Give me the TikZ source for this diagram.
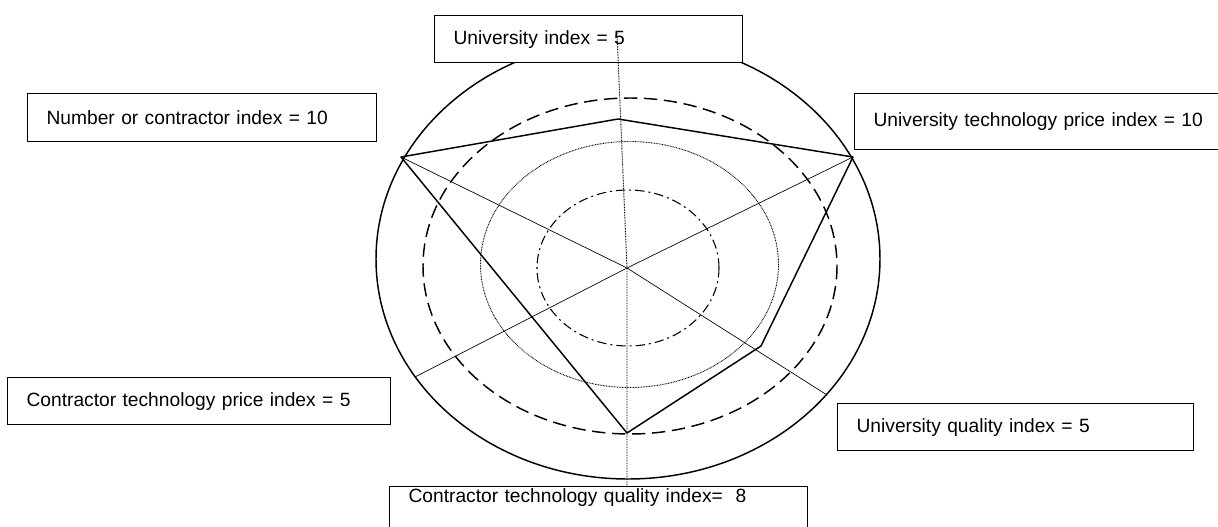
\documentclass[tikz,border=0pt]{standalone}
\usepackage{fontspec}
\setmainfont{Liberation Sans}
\tikzset{
  indexbox/.style={draw, fill=white, line width=0.9pt, anchor=north west, align=left,
    inner xsep=14.25pt, inner ysep=0pt, font=\fontsize{14.4}{17}\selectfont},
  spoke/.style={line width=0.5pt},
  rim/.style={line width=1.1pt},
  finedots/.style={line width=0.7pt, dash pattern=on 0.6pt off 0.6pt},
}

\begin{document}
\begin{tikzpicture}[x=0.75pt,y=0.75pt,yscale=-1,xscale=1]
\useasboundingbox (0,0) rectangle (1218,527);
\clip (0,0) rectangle (1218,527);

%Shape: Ellipse [outer]
\draw [rim] (628,259) ellipse (189pt and 165pt);
%Shape: Ellipse [dashed]
\draw [rim, dash pattern=on 10pt off 5pt] (630,266) ellipse (155.25pt and 126pt);
%Shape: Ellipse [dotted]
\draw [finedots] (629.5,264.5) ellipse (111.75pt and 92.25pt);
%Shape: Ellipse [dash dot]
\draw [line width=0.8pt, dash pattern=on 7pt off 3pt on 1.5pt off 3pt] (628,268) ellipse (68.25pt and 58.5pt);

% Text Node
\node [indexbox, text width=202.5pt, minimum height=35.25pt] (uni) at (434,15) {University index = 5};
% Text Node
\node [indexbox, text width=233.25pt, minimum height=36pt] (num) at (27,93) {Number or contractor index = 10};
% Text Node
\node [indexbox, text width=256.5pt, minimum height=42pt] (uniprice) at (854,93) {University technology price index = 10};
% Text Node
\node [indexbox, text width=258.75pt, minimum height=35.25pt] (conprice) at (7,377) {Contractor technology price index = 5};
% Text Node
\node [indexbox, text width=238.5pt, minimum height=35.25pt] (uniqual) at (837,403) {University quality index = 5};
% Text Node
\node [indexbox, text width=285pt, text height=12pt, text depth=40pt] (conqual) at (389,486) {Contractor technology quality index=~~8};

% Spokes
\coordinate (c) at (627,268);
\coordinate (s1) at (617,33);
\coordinate (s2) at (853,157);
\coordinate (s3) at (827,395);
\coordinate (s4) at (627,486);
\coordinate (s5) at (415,377);
\coordinate (s6) at (401,157);
\draw [finedots] (s1) -- (c) -- (s4);
\draw [spoke] (c) -- (s2);
\draw [spoke] (c) -- (s3);
\draw [spoke] (c) -- (s5);
\draw [spoke] (c) -- (s6);

% Polygon
\coordinate (p1) at (618,119);
\coordinate (p3) at (761,346);
\coordinate (p4) at (627,433);
\draw [rim, line join=round] (p1) -- (s2) -- (p3) -- (p4) -- (s6) -- cycle;

\end{tikzpicture}
\end{document}
